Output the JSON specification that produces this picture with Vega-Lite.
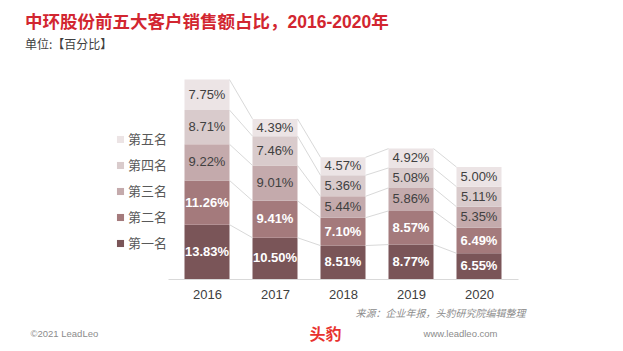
{
  "$schema": "https://vega.github.io/schema/vega-lite/v6.json",
  "width": 350,
  "height": 216,
  "autosize": "none",
  "padding": {"left": 168, "top": 63, "right": 105, "bottom": 72},
  "background": "white",
  "config": {"view": {"stroke": null}, "font": "Liberation Sans, Noto Sans CJK SC"},
  "title": {
    "text": "中环股份前五大客户销售额占比，2016-2020年",
    "subtitle": "单位:【百分比】",
    "anchor": "start",
    "frame": "group",
    "dx": -143,
    "offset": 12,
    "font": "Liberation Sans, Noto Sans CJK SC",
    "fontSize": 17.5,
    "fontWeight": "bold",
    "color": "#d22630",
    "subtitleFont": "Noto Sans CJK SC",
    "subtitleFontSize": 12,
    "subtitleColor": "#404040",
    "subtitlePadding": 9
  },
  "data": {
    "values": [
      {"year": 2016, "rank": 1, "name": "第一名", "value": 13.83},
      {"year": 2016, "rank": 2, "name": "第二名", "value": 11.26},
      {"year": 2016, "rank": 3, "name": "第三名", "value": 9.22},
      {"year": 2016, "rank": 4, "name": "第四名", "value": 8.71},
      {"year": 2016, "rank": 5, "name": "第五名", "value": 7.75},
      {"year": 2017, "rank": 1, "name": "第一名", "value": 10.50},
      {"year": 2017, "rank": 2, "name": "第二名", "value": 9.41},
      {"year": 2017, "rank": 3, "name": "第三名", "value": 9.01},
      {"year": 2017, "rank": 4, "name": "第四名", "value": 7.46},
      {"year": 2017, "rank": 5, "name": "第五名", "value": 4.39},
      {"year": 2018, "rank": 1, "name": "第一名", "value": 8.51},
      {"year": 2018, "rank": 2, "name": "第二名", "value": 7.10},
      {"year": 2018, "rank": 3, "name": "第三名", "value": 5.44},
      {"year": 2018, "rank": 4, "name": "第四名", "value": 5.36},
      {"year": 2018, "rank": 5, "name": "第五名", "value": 4.57},
      {"year": 2019, "rank": 1, "name": "第一名", "value": 8.77},
      {"year": 2019, "rank": 2, "name": "第二名", "value": 8.57},
      {"year": 2019, "rank": 3, "name": "第三名", "value": 5.86},
      {"year": 2019, "rank": 4, "name": "第四名", "value": 5.08},
      {"year": 2019, "rank": 5, "name": "第五名", "value": 4.92},
      {"year": 2020, "rank": 1, "name": "第一名", "value": 6.55},
      {"year": 2020, "rank": 2, "name": "第二名", "value": 6.49},
      {"year": 2020, "rank": 3, "name": "第三名", "value": 5.35},
      {"year": 2020, "rank": 4, "name": "第四名", "value": 5.11},
      {"year": 2020, "rank": 5, "name": "第五名", "value": 5.00}
    ]
  },
  "transform": [
    {"stack": "value", "groupby": ["year"], "sort": [{"field": "rank"}], "as": ["y0", "y1"]},
    {"window": [{"op": "lead", "field": "y1", "as": "ny1"}, {"op": "lead", "field": "year", "as": "nyear"}], "groupby": ["rank"], "sort": [{"field": "year"}]},
    {"calculate": "(datum.y0 + datum.y1) / 2", "as": "mid"},
    {"calculate": "format(datum.value, '.2f') + '%'", "as": "label"}
  ],
  "resolve": {"axis": {"x": "independent", "y": "independent"}},
  "layer": [
    {
      "mark": {"type": "bar", "width": 45},
      "encoding": {
        "x": {
          "field": "year", "type": "quantitative",
          "scale": {"domain": [2015.5, 2020.5], "nice": false, "zero": false},
          "axis": {
            "orient": "bottom", "values": [2016, 2017, 2018, 2019, 2020], "format": "d",
            "ticks": false, "grid": false, "domainColor": "#d9d9d9", "domainWidth": 1,
            "labelFontSize": 13, "labelColor": "#404040", "labelPadding": 9, "labelFont": "Liberation Sans",
            "title": "来源：企业年报，头豹研究院编辑整理",
            "titleFont": "Noto Sans CJK SC", "titleFontStyle": "italic", "titleFontWeight": "normal",
            "titleFontSize": 10, "titleColor": "#8c8c8c",
            "titleAlign": "right", "titleBaseline": "middle", "titleX": 357, "titleY": 34
          }
        },
        "y": {
          "field": "y0", "type": "quantitative",
          "scale": {"domain": [0, 55], "nice": false},
          "axis": {
            "orient": "left", "labels": false, "ticks": false, "domain": false, "grid": false,
            "title": "©2021 LeadLeo", "titleAngle": 0, "titleFont": "Liberation Sans",
            "titleFontWeight": "normal", "titleFontSize": 9.5, "titleColor": "#8c8c8c",
            "titleAlign": "left", "titleBaseline": "middle", "titleX": -138, "titleY": 270
          }
        },
        "y2": {"field": "y1"},
        "color": {
          "field": "name", "type": "nominal",
          "scale": {
            "domain": ["第五名", "第四名", "第三名", "第二名", "第一名"],
            "range": ["#ece4e5", "#d9cbcc", "#c4aaac", "#a47a7c", "#7a5558"]
          },
          "legend": {
            "orient": "none", "legendX": -54, "legendY": 70, "title": null,
            "symbolType": "square", "symbolSize": 50, "symbolStrokeWidth": 0,
            "labelFont": "Noto Sans CJK SC", "labelFontSize": 13, "labelColor": "#595959",
            "rowPadding": 12, "labelOffset": 1
          }
        }
      }
    },
    {
      "mark": {"type": "rule", "color": "#d9d9d9", "strokeWidth": 1, "xOffset": 22.5, "x2Offset": -22.5},
      "transform": [{"filter": "datum.nyear != null"}],
      "encoding": {
        "x": {
          "field": "year", "type": "quantitative",
          "scale": {"domain": [2015.5, 2020.5], "nice": false, "zero": false},
          "axis": {
            "orient": "top", "labels": false, "ticks": false, "domain": false, "grid": false,
            "title": "头豹", "titleFont": "Noto Sans CJK SC", "titleFontWeight": "bold",
            "titleFontSize": 16, "titleColor": "#e8322e",
            "titleAlign": "center", "titleBaseline": "middle", "titleX": 157, "titleY": 271
          }
        },
        "x2": {"field": "nyear"},
        "y": {
          "field": "y1", "type": "quantitative",
          "scale": {"domain": [0, 55], "nice": false},
          "axis": {
            "orient": "right", "labels": false, "ticks": false, "domain": false, "grid": false,
            "title": "www.leadleo.com", "titleAngle": 0, "titleFont": "Liberation Sans",
            "titleFontWeight": "normal", "titleFontSize": 9.5, "titleColor": "#8c8c8c",
            "titleAlign": "right", "titleBaseline": "middle", "titleX": -21, "titleY": 270
          }
        },
        "y2": {"field": "ny1"}
      }
    },
    {
      "mark": {"type": "text", "fontSize": 13, "fontWeight": "bold", "color": "white", "font": "Liberation Sans"},
      "transform": [{"filter": "datum.rank <= 2"}],
      "encoding": {
        "x": {"field": "year", "type": "quantitative", "axis": null},
        "y": {"field": "mid", "type": "quantitative", "axis": null},
        "text": {"field": "label"}
      }
    },
    {
      "mark": {"type": "text", "fontSize": 13, "color": "#404040", "font": "Liberation Sans"},
      "transform": [{"filter": "datum.rank >= 3"}],
      "encoding": {
        "x": {"field": "year", "type": "quantitative", "axis": null},
        "y": {"field": "mid", "type": "quantitative", "axis": null},
        "text": {"field": "label"}
      }
    }
  ]
}
